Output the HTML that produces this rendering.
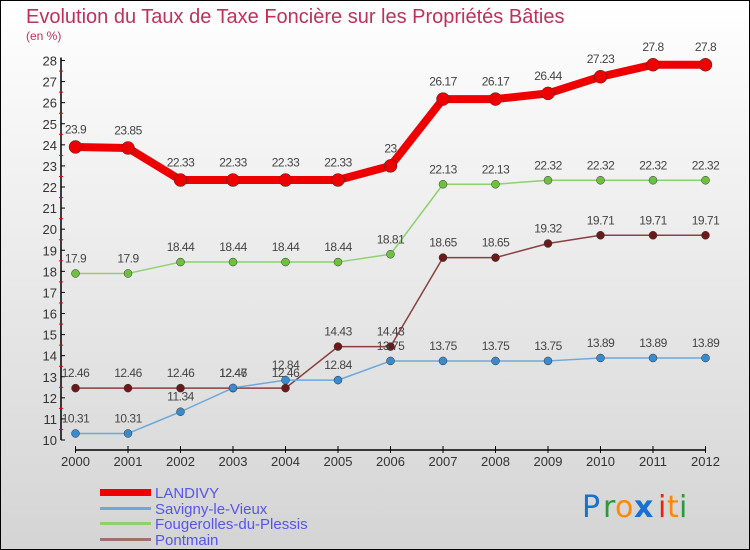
<!DOCTYPE html>
<html><head><meta charset="utf-8"><style>
html,body{margin:0;padding:0;}
body{width:750px;height:550px;overflow:hidden;font-family:"Liberation Sans",sans-serif;}
svg{display:block;}
</style></head><body>
<svg id="chart" width="750" height="550" xmlns="http://www.w3.org/2000/svg">
<defs>
<linearGradient id="bg" x1="0" y1="0" x2="0" y2="1">
<stop offset="0" stop-color="#ffffff"/><stop offset="1" stop-color="#d4d4d4"/>
</linearGradient>
</defs>
<rect x="0.5" y="0.5" width="749" height="549" fill="url(#bg)" stroke="#000"/>
<text x="26" y="23" font-size="20" fill="#c0305a">Evolution du Taux de Taxe Foncière sur les Propriétés Bâties</text>
<text x="26" y="40" font-size="12" fill="#c0305a">(en %)</text>
<g id="axes"></g>
<g id="series"></g>
<g id="legend">
<rect x="100" y="489" width="51" height="7" fill="#ee0000"/>
<text x="155" y="498" font-size="15" fill="#5555ee">LANDIVY</text>
<rect x="100" y="507" width="51" height="3" fill="#6fa8d8"/>
<text x="155" y="514" font-size="15" fill="#5555ee">Savigny-le-Vieux</text>
<rect x="100" y="522" width="51" height="3" fill="#90d070"/>
<text x="155" y="529" font-size="15" fill="#5555ee">Fougerolles-du-Plessis</text>
<rect x="100" y="538" width="51" height="3" fill="#a07070"/>
<text x="155" y="545" font-size="15" fill="#5555ee">Pontmain</text>
</g>
<g font-size="30" font-family="'DejaVu Sans',sans-serif">
<text x="582" y="517" fill="#1a70d0">P</text><text x="603" y="517" fill="#2a9a3a">r</text><text x="615" y="517" fill="#ff8800">o</text><text x="634" y="517" fill="#1a70d0" font-weight="bold">x</text><text x="658" y="517" fill="#ee2200">i</text><text x="667" y="517" fill="#ff8800">t</text><text x="679" y="517" fill="#2a9a3a">i</text>
</g>
</svg>
<script>
const years = ["2000","2001","2002","2003","2004","2005","2006","2007","2008","2009","2010","2011","2012"];
const landivy = [23.9,23.85,22.33,22.33,22.33,22.33,23,26.17,26.17,26.44,27.23,27.8,27.8];
const savigny = [10.31,10.31,11.34,12.47,12.84,12.84,13.75,13.75,13.75,13.75,13.89,13.89,13.89];
const fougerolles = [17.9,17.9,18.44,18.44,18.44,18.44,18.81,22.13,22.13,22.32,22.32,22.32,22.32];
const pontmain = [12.46,12.46,12.46,12.46,12.46,14.43,14.43,18.65,18.65,19.32,19.71,19.71,19.71];
const yTicks = [10,11,12,13,14,15,16,17,18,19,20,21,22,23,24,25,26,27,28];

const NS="http://www.w3.org/2000/svg";
const yMin=10,yMax=28,yTop=60.5,yBot=440;
function yS(v){return yBot-(v-yMin)*(yBot-yTop)/(yMax-yMin);}
function xS(i){return 75.5+i*52.5;}
function mk(tag,attrs,parent){const e=document.createElementNS(NS,tag);for(const k in attrs)e.setAttribute(k,attrs[k]);parent.appendChild(e);return e;}
const axes=document.getElementById('axes');
let l=mk('line',{x1:61,y1:yTop-3,x2:61,y2:yBot,stroke:'#000','stroke-width':1.5},axes);


yTicks.forEach(v=>{
  const y=yS(v);
  mk('line',{x1:61,y1:y,x2:65,y2:y,stroke:'#000'},axes);
  if(v<yMax) mk('line',{x1:59,y1:y-10.5,x2:63,y2:y-10.5,stroke:'#ee0000'},axes);
  const t=mk('text',{x:57,y:y+5,'font-size':13,fill:'#333','text-anchor':'end'},axes);
  t.textContent=v;
  
  
});
l=mk('line',{x1:75,y1:450,x2:706,y2:450,stroke:'#000','stroke-width':1.5},axes);


years.forEach((yr,i)=>{
  const x=xS(i);
  mk('line',{x1:x,y1:446,x2:x,y2:453,stroke:'#000'},axes);
  const t=mk('text',{x:x,y:466,'font-size':13,fill:'#333','text-anchor':'middle'},axes);
  t.textContent=yr;
  
  
});
const ser=document.getElementById('series');
function draw(vals,name,color,w,r,dot){
  const g=mk('g',{},ser);
  
  
  const pts=vals.map((v,i)=>xS(i)+','+yS(v)).join(' ');
  const pl=mk('polyline',{points:pts,fill:'none',stroke:color,'stroke-width':w,'stroke-linejoin':'round'},g);
  
  
  vals.forEach((v,i)=>{
    const c=mk('circle',{cx:xS(i),cy:yS(v),r:r,fill:dot,stroke:'#333','stroke-width':0.5},g);
    
    
    const t=mk('text',{x:xS(i),y:yS(v)-(r+7),'font-size':12,fill:'#444','text-anchor':'middle','letter-spacing':'-0.5'},g);
    t.textContent=v;
    
    
  });
}
draw(pontmain,'pontmain','#8a4040',1.5,4,'#6a1a1a');
draw(savigny,'savigny','#6fa8d8',1.5,4,'#3a8ad0');
draw(fougerolles,'fougerolles','#90d070',1.5,4,'#70c040');
draw(landivy,'landivy','#ee0000',8,6.5,'#ee0000');
</script>
</body></html>
